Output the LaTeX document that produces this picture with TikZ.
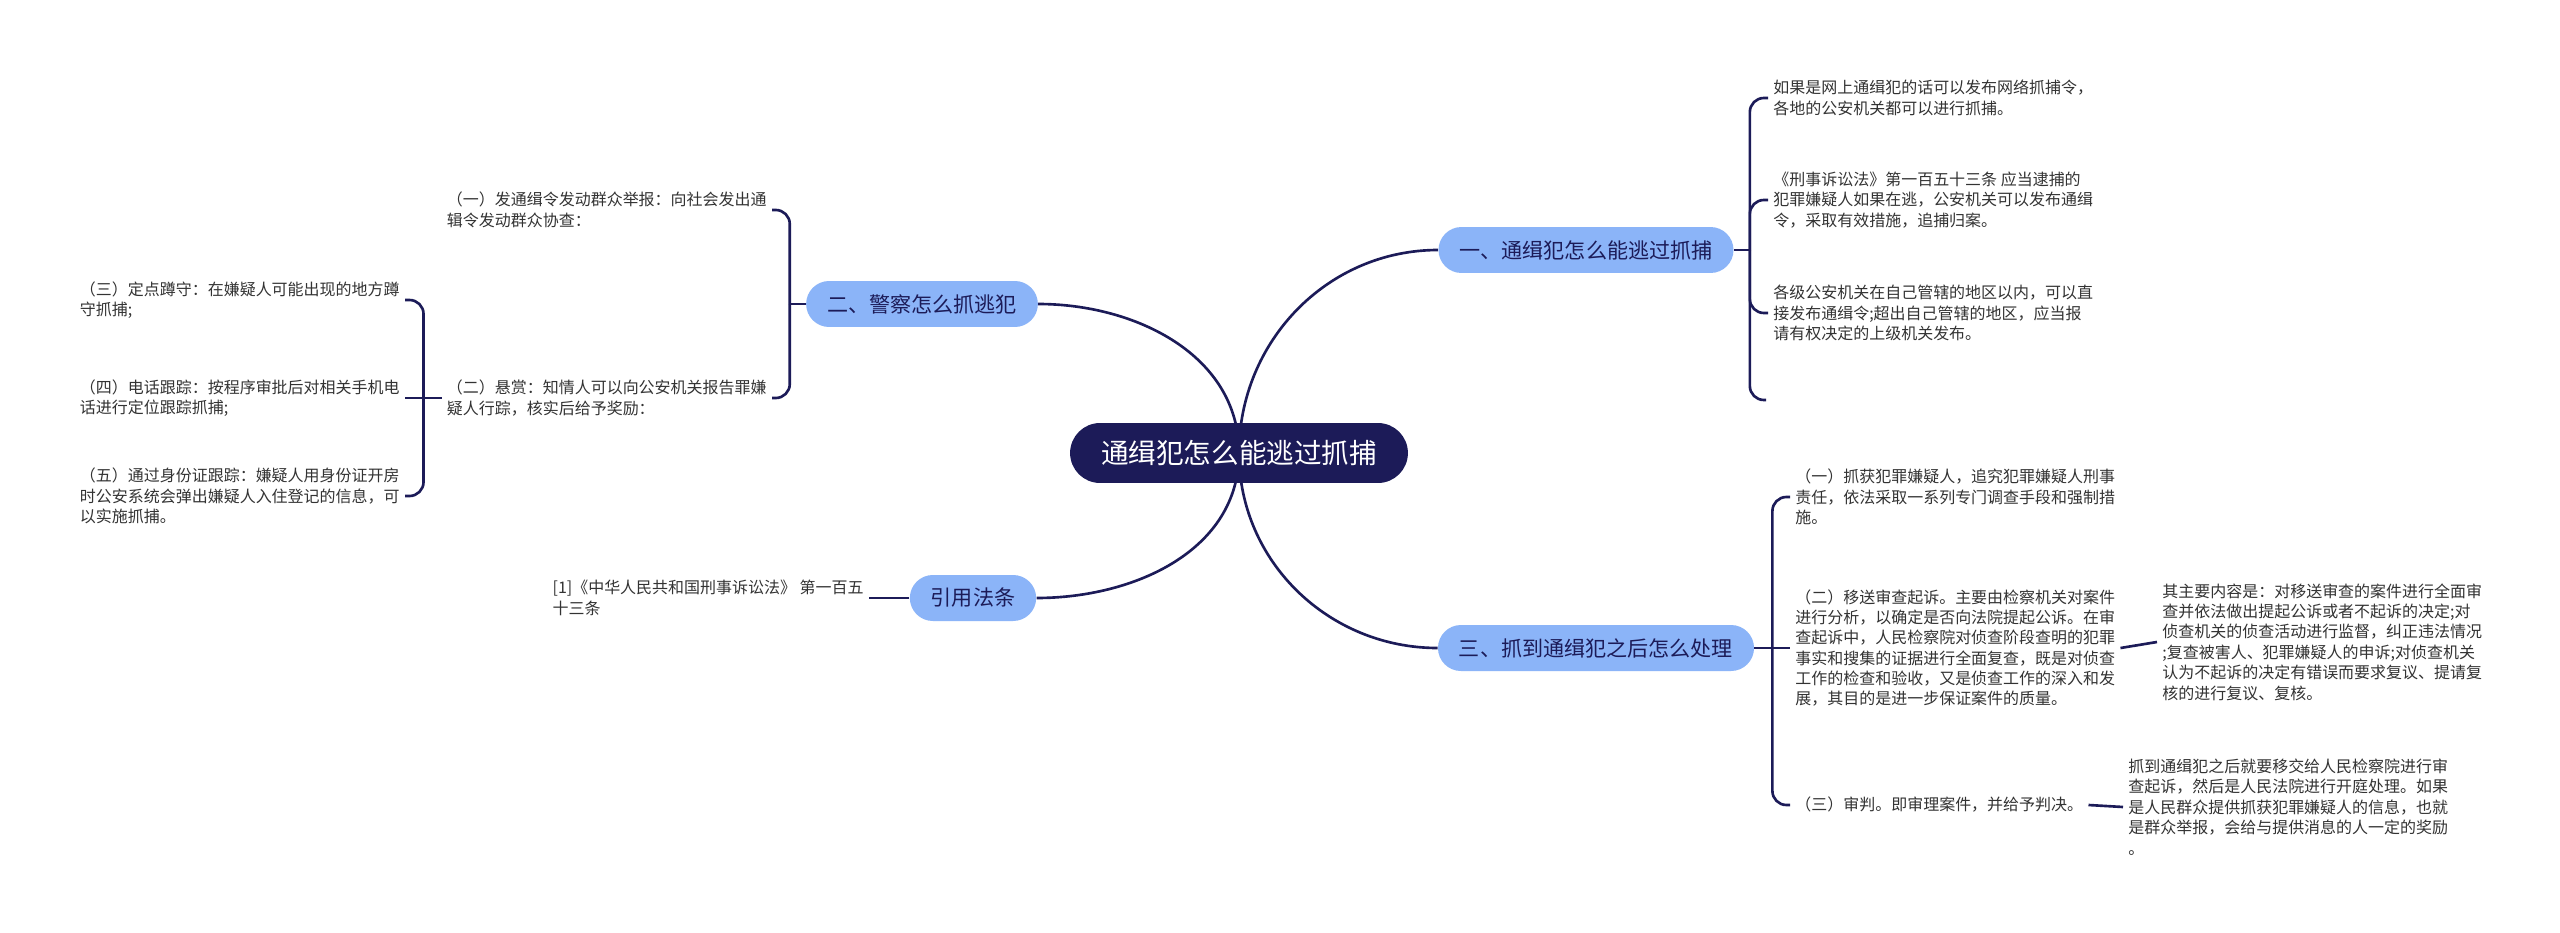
\documentclass[tikz,border=0pt]{standalone}
\usepackage{fontspec}
\setmainfont{Noto Sans CJK SC}
\usetikzlibrary{backgrounds}
\definecolor{navy}{RGB}{28,27,88}
\definecolor{branchblue}{RGB}{139,180,248}
\definecolor{leaftext}{RGB}{51,51,51}
\tikzset{
	rootbox/.style={shape=rectangle, fill=navy, text=white, rounded corners=0.6cm, minimum height=1.2cm, inner xsep=0.62cm, font=\fontsize{15.7pt}{18pt}\selectfont},
	branchbox/.style={shape=rectangle, fill=branchblue, text=navy, rounded corners=0.46cm, minimum height=0.92cm, inner xsep=0.42cm, font=\fontsize{12pt}{14pt}\selectfont},
	leaf/.style={shape=rectangle, align=left, inner sep=0.1cm, text=leaftext, font=\fontsize{9.1pt}{11.6pt}\selectfont},
	link/.style={draw=navy, line width=1.5pt},
	bracketlink/.style={link, rounded corners=0.28cm}
}
\begin{document}
\begin{tikzpicture}[x=0.02cm, y=0.02cm]
			\useasboundingbox (0,0) rectangle (2560,-933);
			\node[rootbox](R) at (1239,-453){通缉犯怎么能逃过抓捕};
			\node[branchbox](B1) at (1586,-250){一、通缉犯怎么能逃过抓捕};
			\node[branchbox](B2) at (922,-304){二、警察怎么抓逃犯};
			\node[branchbox](B3) at (1596,-648){三、抓到通缉犯之后怎么处理};
			\node[branchbox](B4) at (973,-598){引用法条};
			\begin{scope}[on background layer]
				\fill[white] (0,0) rectangle (2560,-933);
				\draw[link] (R.center) to[out=90, in=180] (B1.west);
				\draw[link] (R.center) to[out=90, in=0] (B2.east);
				\draw[link] (R.center) to[out=-90, in=180] (B3.west);
				\draw[link] (R.center) to[out=-90, in=0] (B4.east);
			\end{scope}
			\node[leaf, anchor=west](L11) at (1768,-98){如果是网上通缉犯的话可以发布网络抓捕令，\\各地的公安机关都可以进行抓捕。};
			\node[leaf, anchor=west](L12) at (1768,-200){《刑事诉讼法》第一百五十三条 应当逮捕的\\犯罪嫌疑人如果在逃，公安机关可以发布通缉\\令，采取有效措施，追捕归案。};
			\node[leaf, anchor=west](L13) at (1768,-313){各级公安机关在自己管辖的地区以内，可以直\\接发布通缉令;超出自己管辖的地区，应当报\\请有权决定的上级机关发布。};
			\coordinate (E14) at (1766,-400);
			\draw[link] (B1.east) -- ++(16,0) coordinate (J1);
			\draw[bracketlink] (J1) |- (L11.west);
			\draw[bracketlink] (J1) |- (L12.west);
			\draw[bracketlink] (J1) |- (L13.west);
			\draw[bracketlink] (J1) |- (E14);
			\node[leaf, anchor=east](L21) at (772,-210){（一）发通缉令发动群众举报：向社会发出通\\辑令发动群众协查：};
			\node[leaf, anchor=east](L22) at (772,-398){（二）悬赏：知情人可以向公安机关报告罪嫌\\疑人行踪，核实后给予奖励：};
			\draw[link] (B2.west) -- ++(-16,0) coordinate (J2);
			\draw[bracketlink] (J2) |- (L21.east);
			\draw[bracketlink] (J2) |- (L22.east);
			\node[leaf, anchor=east](L23) at (405,-300){（三）定点蹲守：在嫌疑人可能出现的地方蹲\\守抓捕;};
			\node[leaf, anchor=east](L24) at (405,-398){（四）电话跟踪：按程序审批后对相关手机电\\话进行定位跟踪抓捕;};
			\node[leaf, anchor=east](L25) at (405,-496){（五）通过身份证跟踪：嫌疑人用身份证开房\\时公安系统会弹出嫌疑人入住登记的信息，可\\以实施抓捕。};
			\draw[link] (L22.west) -- ++(-18,0) coordinate (J22);
			\draw[bracketlink] (J22) |- (L23.east);
			\draw[link] (J22) -- (L24.east);
			\draw[bracketlink] (J22) |- (L25.east);
			\node[leaf, anchor=west](L31) at (1790,-497){（一）抓获犯罪嫌疑人，追究犯罪嫌疑人刑事\\责任，依法采取一系列专门调查手段和强制措\\施。};
			\node[leaf, anchor=west](L32) at (1790,-648){（二）移送审查起诉。主要由检察机关对案件\\进行分析，以确定是否向法院提起公诉。在审\\查起诉中，人民检察院对侦查阶段查明的犯罪\\事实和搜集的证据进行全面复查，既是对侦查\\工作的检查和验收，又是侦查工作的深入和发\\展，其目的是进一步保证案件的质量。};
			\node[leaf, anchor=west](L33) at (1790,-805){（三）审判。即审理案件，并给予判决。};
			\draw[link] (B3.east) -- ++(18,0) coordinate (J3);
			\draw[bracketlink] (J3) |- (L31.west);
			\draw[link] (J3) -- (L32.west);
			\draw[bracketlink] (J3) |- (L33.west);
			\node[leaf, anchor=west](L32a) at (2157,-642){其主要内容是：对移送审查的案件进行全面审\\查并依法做出提起公诉或者不起诉的决定;对\\侦查机关的侦查活动进行监督，纠正违法情况\\;复查被害人、犯罪嫌疑人的申诉;对侦查机关\\认为不起诉的决定有错误而要求复议、提请复\\核的进行复议、复核。};
			\node[leaf, anchor=west](L33a) at (2123,-807){抓到通缉犯之后就要移交给人民检察院进行审\\查起诉，然后是人民法院进行开庭处理。如果\\是人民群众提供抓获犯罪嫌疑人的信息，也就\\是群众举报，会给与提供消息的人一定的奖励\\。};
			\draw[link] (L32.east) -- (L32a.west);
			\draw[link] (L33.east) -- (L33a.west);
			\node[leaf, anchor=east](L41) at (869,-598){[1]《中华人民共和国刑事诉讼法》 第一百五\\十三条};
			\draw[link] (B4.west) -- (L41.east);
		\end{tikzpicture}
\end{document}
